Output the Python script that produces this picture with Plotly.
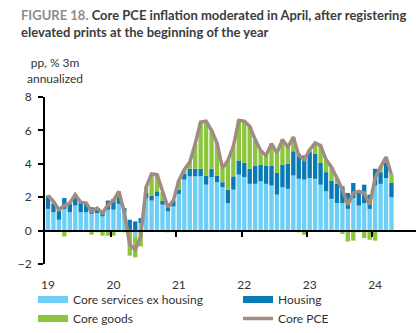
import plotly.graph_objects as go
import pandas as pd

# ---------------- data ----------------
months = pd.date_range("2019-01-01", "2024-04-01", freq="MS").strftime("%Y-%m").tolist()

services_ex_housing = [
    1.3, 1.1, 0.65, 1.3, 1.1, 1.5, 1.1, 1.1, 1.0, 1.05, 0.85, 1.25,
    1.25, 1.6, 1.1, 0.05, -0.35, 0.45, 1.95, 1.8, 2.05, 1.55, 1.15, 1.45,
    2.2, 3.05, 3.25, 3.25, 3.25, 2.75, 3.2, 2.9, 2.6, 1.65, 2.45, 3.35,
    3.2, 2.8, 2.8, 2.95, 2.8, 2.7, 2.15, 2.6, 2.5, 3.3, 3.1, 3.05,
    3.15, 3.1, 2.75, 2.35, 1.9, 1.65, 1.65, 1.3, 1.95, 1.5, 1.65, 1.3,
    2.7, 2.8, 3.15, 2.0,
]
housing = [
    0.75, 0.5, 0.55, 0.65, 0.5, 0.5, 0.6, 0.5, 0.4, 0.3, 0.35, 0.55,
    0.65, 0.4, 0.25, 0.6, 0.55, 0.3, 0.3, 0.3, 0.3, 0.25, 0.3, 0.3,
    0.25, 0.35, 0.45, 0.45, 0.45, 0.55, 0.5, 0.4, 0.3, 0.8, 0.8, 0.85,
    0.85, 0.9, 1.1, 1.0, 1.1, 1.2, 1.3, 1.35, 1.5, 1.45, 1.5, 1.45,
    1.55, 1.5, 1.3, 1.15, 1.1, 1.15, 1.0, 0.95, 0.9, 0.8, 1.1, 0.85,
    1.0, 0.7, 0.9, 0.85,
]
core_goods = [
    0.05, 0.15, 0.05, -0.35, -0.1, 0.15, 0.0, 0.05, -0.25, -0.1, -0.3, -0.3,
    -0.3, 0.35, -0.1, -1.5, -1.25, -0.95, 0.35, 1.3, 1.0, 0.5, -0.1, 0.05,
    0.55, 0.25, 0.4, 1.5, 2.8, 3.25, 2.3, 1.95, 0.85, 1.75, 1.8, 2.4,
    2.5, 2.55, 1.55, 0.85, 0.6, 1.3, 1.2, 1.5, 1.0, 0.85, -0.1, -0.25,
    0.15, 0.65, 1.05, 0.75, 0.8, 0.35, -0.2, -0.65, -0.6, -0.1, -0.45, -0.55,
    -0.6, 0.3, 0.35, 0.5,
]
core_pce = [
    2.1, 1.75, 1.25, 1.5, 1.65, 2.15, 1.7, 1.65, 1.15, 1.35, 1.05, 1.55,
    1.8, 2.35, 1.1, -0.85, -1.15, -0.35, 2.6, 3.4, 3.35, 2.3, 1.4, 1.8,
    3.0, 3.65, 4.1, 5.2, 6.5, 6.55, 6.0, 5.25, 3.75, 4.2, 5.05, 6.6,
    6.55, 6.25, 5.45, 4.8, 4.5, 5.2, 4.65, 5.45, 5.0, 5.6, 4.5, 4.25,
    4.85, 5.25, 5.1, 4.25, 3.8, 3.15, 2.45, 1.55, 2.25, 2.35, 2.25, 1.55,
    3.15, 3.8, 4.4, 3.35,
]
year_labels = ["19", "20", "21", "22", "23", "24"]
y_ticks = [-2, 0, 2, 4, 6, 8]

# ---------------- style ----------------
C_SERV = "#6DCFF6"
C_HOUS = "#0A7AB5"
C_GOODS = "#8CC63F"
C_PCE = "#A08C80"
TXT = "#333333"
FONT = "Lato"

W, H = 416, 333
ML, MR, MT, MB = 45, 0, 97, 69
PW, PH = W - ML - MR, H - MT - MB


def px_x(px):
    return (px - ML) / PW


def px_y(py):
    return (H - MB - py) / PH


jan_cats = ["20" + y + "-01" for y in year_labels]
jan_idx = [months.index(c) for c in jan_cats]
boundaries = [i - 0.5 for i in jan_idx[1:]]
x_range = [-0.55, 67.5]
y_range = [-2, 8]

fig = go.Figure()
fig.add_bar(x=months, y=services_ex_housing, marker_color=C_SERV, marker_line_width=0,
            name="Core services ex housing", showlegend=False)
fig.add_bar(x=months, y=housing, marker_color=C_HOUS, marker_line_width=0,
            name="Housing", showlegend=False)
fig.add_bar(x=months, y=core_goods, marker_color=C_GOODS, marker_line_width=0,
            name="Core goods", showlegend=False)
fig.add_scatter(x=months, y=core_pce, mode="lines", line=dict(color=C_PCE, width=3.5),
                name="Core PCE", showlegend=False)

# legend proxies (wide swatches)
for nm, col, w in [("Core services ex housing", C_SERV, 7), ("Housing", C_HOUS, 7),
                   ("Core goods", C_GOODS, 7), ("Core PCE", C_PCE, 3.5)]:
    fig.add_scatter(x=[None], y=[None], mode="lines", line=dict(color=col, width=w),
                    name=nm, showlegend=True)

# dummy trace to activate the zero-line axis
fig.add_scatter(x=[0], y=[0], xaxis="x2", mode="markers", marker=dict(opacity=0),
                showlegend=False, hoverinfo="skip")

zero_pos = (0 - y_range[0]) / (y_range[1] - y_range[0])

fig.update_layout(
    width=W, height=H,
    margin=dict(l=ML, r=MR, t=MT, b=MB, autoexpand=False),
    paper_bgcolor="white", plot_bgcolor="white",
    barmode="relative", bargap=0.2,
    font=dict(family=FONT, size=12, color=TXT),
    xaxis=dict(
        type="category", range=x_range,
        tickmode="array", tickvals=jan_cats, ticktext=year_labels,
        showline=False, showgrid=False, zeroline=False, ticks="",
        ticklabelstandoff=12,
        tickfont=dict(size=12, color=TXT),
    ),
    xaxis2=dict(
        overlaying="x", anchor="free", position=zero_pos, side="bottom",
        range=x_range, showline=True, linecolor="black", linewidth=2,
        ticks="outside", ticklen=5, tickwidth=1.5, tickcolor="black",
        tickmode="array", tickvals=boundaries,
        showticklabels=False, showgrid=False, zeroline=False,
    ),
    yaxis=dict(
        range=y_range, tickmode="array", tickvals=y_ticks,
        showline=True, linecolor="black", linewidth=2,
        ticks="outside", ticklen=5, tickwidth=1.5, tickcolor="black",
        showgrid=False, zeroline=False, ticklabelstandoff=4,
        tickfont=dict(size=12, color=TXT),
    ),
    legend=dict(
        orientation="h", x=px_x(33), y=px_y(285), xanchor="left", yanchor="top",
        entrywidth=160, entrywidthmode="pixels", itemwidth=30,
        font=dict(size=12, color=TXT), bgcolor="rgba(0,0,0,0)",
        tracegroupgap=0,
    ),
    annotations=[
        dict(
            text="<b><span style='color:#8C8C8C'>FIGURE 18.</span> Core PCE inflation moderated in April, after registering<br>elevated prints at the beginning of the year</b>",
            xref="paper", yref="paper", x=px_x(19), y=px_y(5),
            xanchor="left", yanchor="top", align="left", showarrow=False,
            font=dict(family=FONT, size=13, color="#3C3C3C"),
        ),
        dict(
            text="pp, % 3m<br>annualized", xref="paper", yref="paper",
            x=px_x(55), y=px_y(53), xanchor="center", yanchor="top",
            showarrow=False, align="center", font=dict(size=12, color=TXT),
        ),
    ],
)

fig.write_html("out.html")
